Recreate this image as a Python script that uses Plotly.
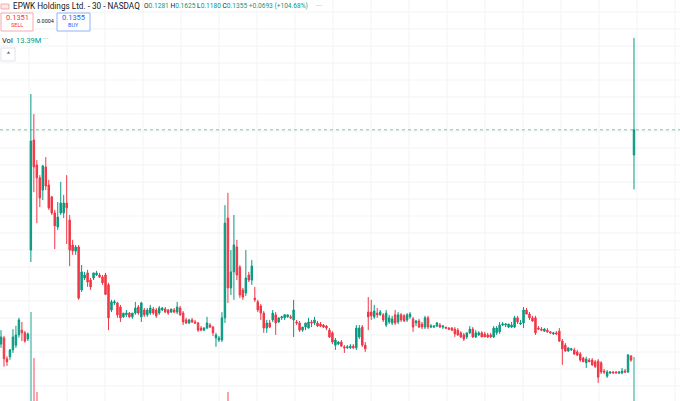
import plotly.graph_objects as go

# Prices in units of 0.0001 USD (open, high, low, close)
OPEN = [726,744,683,689,709,723,753,767,759,741,
1002,1325,1252,1214,1178,1246,1193,1158,1111,1070,1111,1111,1140,1090,1017,999,1011,885,920,935,914,920,929,929,923,929,900,826,847,847,835,
806,812,817,806,817,835,806,826,812,817,829,826,817,826,829,826,820,826,820,832,817,797,788,797,791,788,773,767,773,782,776,744,738,738,
803,1096,891,938,1011,952,885,876,929,914,861,850,838,817,773,788,797,812,791,803,803,806,806,797,791,788,767,776,773,791,788,788,785,782,779,767,759,723,726,732,718,715,715,720,715,747,
776,723,820,820,806,817,812,812,782,791,788,812,791,812,809,797,806,800,788,794,785,776,803,776,776,779,782,776,776,773,773,770,767,759,753,747,759,770,747,753,759,756,753,753,747,759,
762,782,782,776,776,776,803,785,788,826,814,803,803,773,770,764,767,762,756,759,764,735,723,706,709,709,703,697,685,671,679,679,674,676,671,647,632,641,644,644,641,641,647,644,691,
1281]
HIGH = [767,750,690,712,770,780,803,791,765,760,
1460,1401,1266,1222,1252,1275,1208,1161,1120,1143,1202,1164,1222,1105,1032,1017,1017,958,938,944,920,935,941,935,929,935,906,856,856,850,841,
812,826,820,809,850,841,850,832,832,841,835,832,838,835,835,829,829,832,850,838,823,803,800,803,797,791,779,776,806,788,779,759,750,820,
1134,1170,1002,1105,1032,958,891,1002,938,973,894,856,844,823,797,797,826,820,803,809,814,812,812,856,797,794,776,788,803,797,806,794,791,785,782,773,764,744,735,738,723,723,726,726,782,782,
782,732,864,856,841,832,826,817,826,812,809,826,820,817,814,817,820,806,797,800,791,809,809,785,782,791,788,782,776,776,776,776,773,764,759,759,779,776,767,764,764,762,759,759,779,779,
791,791,788,785,791,809,809,797,835,832,820,809,809,779,776,773,773,764,762,764,773,741,729,715,715,715,709,703,689,689,685,685,679,682,676,653,650,647,647,647,647,656,653,697,694,
1625]
LOW = [715,660,662,680,700,715,745,735,730,735,
967,1172,1081,1128,1149,1178,1120,1105,1005,1061,1105,1096,1020,955,988,988,856,879,914,894,885,914,926,920,900,870,767,820,841,803,791,
803,806,803,800,812,812,791,806,806,812,812,803,812,823,817,812,817,817,814,809,782,785,785,788,785,762,764,764,770,773,750,718,732,732,
788,847,870,856,914,861,856,867,908,900,850,820,797,759,759,773,791,753,788,797,797,803,800,747,782,762,762,767,782,776,782,776,776,773,767,744,726,709,723,718,700,712,712,712,709,741,
718,703,767,797,800,803,809,791,776,785,782,782,785,791,791,791,800,762,779,773,770,770,770,773,773,776,773,770,770,767,764,747,750,744,735,741,756,744,744,750,747,747,744,744,744,753,
756,779,776,773,773,773,785,782,773,814,797,791,753,767,764,762,759,756,753,753,732,665,703,703,706,694,691,674,674,656,674,662,656,612,638,638,627,638,641,641,638,638,641,641,674,
1180]
CLOSE = [747,683,674,709,747,753,797,759,735,756,
1322,1246,1214,1155,1249,1190,1126,1111,1073,1099,1140,1140,1126,1002,999,1011,861,938,929,908,894,935,935,923,906,872,803,850,850,812,803,
817,817,806,817,832,817,847,812,826,832,817,809,832,832,820,817,829,820,835,812,791,788,797,791,788,767,767,773,788,776,759,753,744,803,
1081,891,938,1017,929,870,864,920,914,955,856,826,817,773,788,776,817,788,803,806,812,812,803,826,788,767,776,788,791,788,797,779,779,776,773,747,732,738,732,720,715,718,720,715,773,773,
723,712,806,809,823,812,820,797,817,803,800,788,812,797,794,812,814,776,794,776,776,803,776,779,779,788,776,779,773,770,767,756,753,747,741,759,770,747,759,759,747,747,747,747,773,773,
782,785,785,785,782,803,791,788,826,814,803,794,759,770,767,770,762,759,759,756,735,712,706,715,712,697,694,679,674,682,674,665,660,629,644,644,644,644,641,641,644,647,644,694,679,
1355]

# Volume (millions) for the candles whose bars are visible
VOL_INDEX = [10, 11, 12, 76, 212]
VOL_VALUE = [27.1, 13.1, 2.7, 2.7, 13.39]
VOL_UP = [True, False, False, False, True]

LAST_CLOSE = 0.1355
UP = "#089981"
DOWN = "#f23645"

W, H = 680, 401
n = len(CLOSE)
xs = list(range(n))
o = [v / 1e4 for v in OPEN]
h = [v / 1e4 for v in HIGH]
l = [v / 1e4 for v in LOW]
c = [v / 1e4 for v in CLOSE]

fig = go.Figure()
fig.add_trace(go.Bar(
    x=VOL_INDEX, y=VOL_VALUE, yaxis="y2", width=0.8,
    marker=dict(color=["rgba(8,153,129,0.45)" if u else "rgba(242,54,69,0.45)" for u in VOL_UP], line_width=0),
    hoverinfo="skip", showlegend=False))
fig.add_trace(go.Candlestick(
    x=xs, open=o, high=h, low=l, close=c, whiskerwidth=0,
    increasing=dict(line=dict(color=UP, width=1), fillcolor=UP),
    decreasing=dict(line=dict(color=DOWN, width=1), fillcolor=DOWN),
    showlegend=False))

# x range: first candle at ~1px, last at ~634px
px_per = (634 - 1) / (n - 1)
x0 = 0 - 1 / px_per
x1 = x0 + W / px_per

shapes = []
for gx in range(29, W, 38):
    shapes.append(dict(type="line", xref="paper", yref="paper", x0=gx / W, x1=gx / W, y0=0, y1=1,
                       line=dict(color="#f2f3f5", width=1), layer="below"))
for gy in range(12, H, 17):
    shapes.append(dict(type="line", xref="paper", yref="paper", y0=1 - gy / H, y1=1 - gy / H, x0=0, x1=1,
                       line=dict(color="#f2f3f5", width=1), layer="below"))
shapes.append(dict(type="line", xref="paper", yref="y", x0=0, x1=1, y0=LAST_CLOSE, y1=LAST_CLOSE,
                   line=dict(color="rgba(8,153,129,0.55)", width=1, dash="dot")))
# sell / buy boxes and collapse button
shapes.append(dict(type="rect", xref="paper", yref="paper", x0=1 / W, x1=33 / W, y0=1 - 31 / H, y1=1 - 13 / H,
                   line=dict(color="#f7a9af", width=1), fillcolor="white"))
shapes.append(dict(type="rect", xref="paper", yref="paper", x0=57 / W, x1=90 / W, y0=1 - 31 / H, y1=1 - 13 / H,
                   line=dict(color="#8fb4f7", width=1), fillcolor="white"))
shapes.append(dict(type="rect", xref="paper", yref="paper", x0=1 / W, x1=15 / W, y0=1 - 61 / H, y1=1 - 48 / H,
                   line=dict(color="#e0e3eb", width=1), fillcolor="white"))
shapes.append(dict(type="rect", xref="paper", yref="paper", x0=1 / W, x1=9 / W, y0=1 - 9 / H, y1=1 - 4 / H,
                   line=dict(color="#f7a9af", width=1), fillcolor="#fde8ea"))

F = "Roboto, Liberation Sans, sans-serif"
def ann(x, y, text, size=10, color="#131722", anchor="left"):
    return dict(xref="paper", yref="paper", x=x / W, y=1 - y / H, text=text, showarrow=False,
                xanchor=anchor, yanchor="middle", font=dict(family=F, size=size, color=color))

g = UP
annotations = [
    ann(11, 6, "EPWK Holdings Ltd. - 30 - NASDAQ", 8.2),
    ann(142, 6, f"O<span style='color:{g}'>0.1281</span> H<span style='color:{g}'>0.1625</span> "
               f"L<span style='color:{g}'>0.1180</span> C<span style='color:{g}'>0.1355</span> "
               f"<span style='color:{g}'>+0.0693 (+104.68%)</span>", 6.6),
    ann(314, 5, "···", 8, "#9598a1"),
    ann(17, 18, "0.1351", 7.5, DOWN, "center"),
    ann(17, 25.5, "SELL", 5.5, DOWN, "center"),
    ann(45, 21, "0.0004", 5.5, "#131722", "center"),
    ann(73.5, 18, "0.1355", 7.5, "#2962ff", "center"),
    ann(73.5, 25.5, "BUY", 5.5, "#2962ff", "center"),
    ann(0, 40, "Vol", 7.5),
    ann(14, 40, "13.39M", 7.5, g),
    ann(41, 39, "···", 7, "#9598a1"),
    ann(8, 55, "^", 7, "#131722", "center"),
]

fig.update_layout(
    width=W, height=H, margin=dict(l=0, r=0, t=0, b=0),
    paper_bgcolor="white", plot_bgcolor="white",
    xaxis=dict(range=[x0, x1], visible=False, rangeslider=dict(visible=False), fixedrange=True),
    yaxis=dict(range=[0.0559, 0.1736], visible=False, fixedrange=True),
    yaxis2=dict(range=[0, 122], overlaying="y", visible=False, fixedrange=True),
    shapes=shapes, annotations=annotations, bargap=0,
)
fig.write_html("out.html", config={"displayModeBar": False},
               post_script="document.body.style.margin='0';document.body.style.overflow='hidden';")
